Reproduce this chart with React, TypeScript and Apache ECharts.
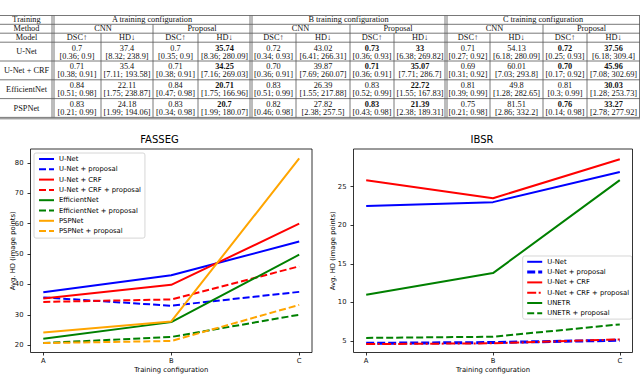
import React, { useEffect, useRef } from 'react';
import * as echarts from 'echarts';

// ---------- Table data ----------
const tableModels = ['U-Net', 'U-Net + CRF', 'EfficientNet', 'PSPNet'];
const configTitles = ['A training configuration', 'B training configuration', 'C training configuration'];
const methodNames = ['CNN', 'Proposal'];
const metricNames = ['DSC↑', 'HD↓'];
const headerLabels = ['Training', 'Method', 'Model'];

const aCnnDsc = ['0.7', '0.71', '0.84', '0.83'];
const aCnnDscCi = ['[0.36; 0.9]', '[0.38; 0.91]', '[0.51; 0.98]', '[0.21; 0.99]'];
const aCnnHd = ['37.4', '35.4', '22.11', '24.18'];
const aCnnHdCi = ['[8.32; 238.9]', '[7.11; 193.58]', '[1.75; 238.87]', '[1.99; 194.06]'];
const aPropDsc = ['0.7', '0.71', '0.84', '0.83'];
const aPropDscCi = ['[0.35; 0.9]', '[0.38; 0.91]', '[0.47; 0.98]', '[0.34; 0.98]'];
const aPropHd = ['35.74', '34.25', '20.71', '20.7'];
const aPropHdCi = ['[8.36; 280.09]', '[7.16; 269.03]', '[1.75; 166.96]', '[1.99; 180.07]'];

const bCnnDsc = ['0.72', '0.70', '0.83', '0.82'];
const bCnnDscCi = ['[0.34; 0.93]', '[0.36; 0.91]', '[0.51; 0.99]', '[0.46; 0.98]'];
const bCnnHd = ['43.02', '39.87', '26.39', '27.82'];
const bCnnHdCi = ['[6.41; 266.31]', '[7.69; 260.07]', '[1.55; 217.88]', '[2.38; 257.5]'];
const bPropDsc = ['0.73', '0.71', '0.83', '0.83'];
const bPropDscCi = ['[0.36; 0.93]', '[0.36; 0.91]', '[0.52; 0.99]', '[0.43; 0.98]'];
const bPropHd = ['33', '35.07', '22.72', '21.39'];
const bPropHdCi = ['[6.38; 269.82]', '[7.71; 286.7]', '[1.55; 167.83]', '[2.38; 189.31]'];

const cCnnDsc = ['0.71', '0.69', '0.81', '0.75'];
const cCnnDscCi = ['[0.27; 0.92]', '[0.31; 0.92]', '[0.39; 0.99]', '[0.21; 0.98]'];
const cCnnHd = ['54.13', '60.01', '49.8', '81.51'];
const cCnnHdCi = ['[6.18; 280.09]', '[7.03; 293.8]', '[1.28; 282.65]', '[2.86; 332.2]'];
const cPropDsc = ['0.72', '0.70', '0.81', '0.76'];
const cPropDscCi = ['[0.25; 0.93]', '[0.17; 0.92]', '[0.3; 0.99]', '[0.14; 0.98]'];
const cPropHd = ['37.56', '45.96', '30.03', '33.27'];
const cPropHdCi = ['[6.18; 309.4]', '[7.08; 302.69]', '[1.28; 253.73]', '[2.78; 277.92]'];

const boldNone = [false, false, false, false];
const boldAll = [true, true, true, true];
const boldPropDsc = [true, true, false, true];

// ---------- Chart data ----------
const configs = ['A', 'B', 'C'];
const fassegNames = ['U-Net', 'U-Net + proposal', 'U-Net + CRF', 'U-Net + CRF + proposal', 'EfficientNet', 'EfficientNet + proposal', 'PSPNet', 'PSPNet + proposal'];
const fassegUNet = [37.4, 43.02, 54.13];
const fassegUNetProp = [35.74, 33, 37.56];
const fassegCrf = [35.4, 39.87, 60.01];
const fassegCrfProp = [34.25, 35.07, 45.96];
const fassegEff = [22.11, 27.6, 49.8];
const fassegEffProp = [20.71, 22.72, 30.03];
const fassegPsp = [24.18, 27.82, 81.51];
const fassegPspProp = [20.7, 21.39, 33.27];

const ibsrNames = ['U-Net', 'U-Net + proposal', 'U-Net + CRF', 'U-Net + CRF + proposal', 'UNETR', 'UNETR + proposal'];
const ibsrUNet = [22.5, 23.0, 26.9];
const ibsrUNetProp = [4.7, 4.8, 5.1];
const ibsrCrf = [25.85, 23.5, 28.55];
const ibsrCrfProp = [4.6, 4.7, 5.2];
const ibsrUnetr = [11.0, 13.8, 25.85];
const ibsrUnetrProp = [5.4, 5.55, 7.15];

const fassegTicks = { min: 20, max: 80, interval: 10 };
const ibsrTicks = { min: 5, max: 25, interval: 5 };

// ---------- layout ----------
const SANS = '"DejaVu Sans", sans-serif';
const SERIF = '"Liberation Serif", "Times New Roman", serif';
const colEdges = [0, 53, 101, 153, 198, 251, 296, 350, 394, 446, 490, 543, 587, 640];
const rowEdges = [15.5, 24.3, 33.2, 42.2, 61, 79.8, 98.6, 117.4];

const tableColumns: [string[], string[], boolean[]][] = [
  [aCnnDsc, aCnnDscCi, boldNone], [aCnnHd, aCnnHdCi, boldNone], [aPropDsc, aPropDscCi, boldNone], [aPropHd, aPropHdCi, boldAll],
  [bCnnDsc, bCnnDscCi, boldNone], [bCnnHd, bCnnHdCi, boldNone], [bPropDsc, bPropDscCi, boldPropDsc], [bPropHd, bPropHdCi, boldAll],
  [cCnnDsc, cCnnDscCi, boldNone], [cCnnHd, cCnnHdCi, boldNone], [cPropDsc, cPropDscCi, boldPropDsc], [cPropHd, cPropHdCi, boldAll],
];

function tableElements() {
  const els: any[] = [];
  const stroke = '#555';
  const lw = 0.8;
  const line = (x1: number, y1: number, x2: number, y2: number) =>
    els.push({ type: 'line', silent: true, shape: { x1, y1, x2, y2 }, style: { stroke, lineWidth: lw } });
  const text = (t: string, x: number, y: number, bold = false) =>
    els.push({
      type: 'text', silent: true, x, y,
      style: { text: t, fill: '#111', fontSize: 8.3, fontFamily: SERIF, fontWeight: bold ? 'bold' : 'normal', align: 'center', verticalAlign: 'middle' },
    });
  const top = rowEdges[0];
  const bot = rowEdges[rowEdges.length - 1];
  rowEdges.forEach((y) => line(0, y, 640, y));
  line(0, bot + 1.4, 640, bot + 1.4);
  [1, 5, 9].forEach((ci) => { line(colEdges[ci] - 1, top, colEdges[ci] - 1, bot); line(colEdges[ci] + 1, top, colEdges[ci] + 1, bot); });
  [3, 7, 11].forEach((ci) => line(colEdges[ci], rowEdges[1], colEdges[ci], bot));
  [2, 4, 6, 8, 10, 12].forEach((ci) => line(colEdges[ci], rowEdges[2], colEdges[ci], bot));
  line(639.5, top, 639.5, bot);

  const c0 = (colEdges[0] + colEdges[1]) / 2;
  headerLabels.forEach((h, r) => text(h, c0, (rowEdges[r] + rowEdges[r + 1]) / 2));
  configTitles.forEach((t, k) => text(t, (colEdges[1 + 4 * k] + colEdges[5 + 4 * k]) / 2, (rowEdges[0] + rowEdges[1]) / 2));
  configTitles.forEach((_, k) => methodNames.forEach((m, mi) =>
    text(m, (colEdges[1 + 4 * k + 2 * mi] + colEdges[3 + 4 * k + 2 * mi]) / 2, (rowEdges[1] + rowEdges[2]) / 2)));
  tableColumns.forEach((_, i) => text(metricNames[i % 2], (colEdges[i + 1] + colEdges[i + 2]) / 2, (rowEdges[2] + rowEdges[3]) / 2));
  tableModels.forEach((m, r) => {
    const y0 = rowEdges[3 + r];
    const y1 = rowEdges[4 + r];
    text(m, c0, (y0 + y1) / 2);
    tableColumns.forEach(([vals, cis, bold], i) => {
      const cx = (colEdges[i + 1] + colEdges[i + 2]) / 2;
      text(vals[r], cx, y0 + 5.8, bold[r]);
      text(cis[r], cx, y0 + 13.8);
    });
  });
  return els;
}

function chartDecor() {
  const els: any[] = [];
  const frames = [
    { x: 30.5, y: 149, w: 281.5, h: 203.5, title: 'FASSEG', tx: 159.5, yl: 13.3 },
    { x: 353.5, y: 149, w: 279, h: 203.5, title: 'IBSR', tx: 482, yl: 333.3 },
  ];
  frames.forEach((f) => {
    els.push({ type: 'rect', silent: true, z: 50, shape: { x: f.x, y: f.y, width: f.w, height: f.h }, style: { fill: 'none', stroke: '#000', lineWidth: 0.8 } });
    els.push({ type: 'text', silent: true, x: f.tx, y: 139.5, style: { text: f.title, fill: '#000', fontSize: 10, fontFamily: SANS, align: 'center', verticalAlign: 'middle' } });
    els.push({ type: 'text', silent: true, x: f.x + f.w / 2, y: 369.8, style: { text: 'Training configuration', fill: '#000', fontSize: 6.8, fontFamily: SANS, align: 'center', verticalAlign: 'middle' } });
    els.push({ type: 'text', silent: true, x: f.yl, y: f.y + f.h / 2, rotation: Math.PI / 2, style: { text: 'Avg. HD (image points)', fill: '#000', fontSize: 6.8, fontFamily: SANS, align: 'center', verticalAlign: 'middle' } });
  });
  return els;
}

const BLUE = '#0000ff';
const RED = '#ff0000';
const GREEN = '#008000';
const ORANGE = '#ffa500';
const DASH = [7, 3];

function lineSeries(name: string, data: number[], color: string, type: any, idx: number, width = 2) {
  return {
    type: 'line', name, data, xAxisIndex: idx, yAxisIndex: idx,
    symbol: 'none', showSymbol: false, clip: false, silent: true,
    lineStyle: { color, width, type, join: 'round' },
    itemStyle: { color },
  };
}

function buildOption() {
  const axisText = { fontSize: 6.8, fontFamily: SANS, color: '#111' };
  const tick = { show: true, length: 3, inside: false, lineStyle: { color: '#000', width: 0.8 } };
  const xAxisBase = {
    type: 'category', data: configs, boundaryGap: false,
    axisLine: { show: false }, axisTick: tick, splitLine: { show: false },
    axisLabel: { ...axisText, margin: 5 },
  };
  const yAxisBase = {
    type: 'value', axisLine: { show: false }, axisTick: tick, splitLine: { show: false },
    axisLabel: { ...axisText, margin: 7 },
  };
  const legendBase = {
    orient: 'vertical', itemWidth: 15, itemHeight: 8, itemGap: 2.3,
    textStyle: { fontSize: 6.8, fontFamily: SANS, color: '#000', lineHeight: 8 },
    backgroundColor: 'rgba(255,255,255,0.85)', borderColor: '#cccccc', borderWidth: 0.8, borderRadius: 2,
    itemStyle: { opacity: 0 }, selectedMode: false, z: 10,
  };
  return {
    animation: false,
    backgroundColor: '#ffffff',
    grid: [
      { left: 43.3, top: 163, width: 255.9, height: 182.2, outerBoundsMode: 'none', containLabel: false },
      { left: 366.2, top: 186.7, width: 253.6, height: 154.3, outerBoundsMode: 'none', containLabel: false },
    ],
    xAxis: [
      { ...xAxisBase, gridIndex: 0, offset: 7.3 },
      { ...xAxisBase, gridIndex: 1, offset: 11.5 },
    ],
    yAxis: [
      { ...yAxisBase, gridIndex: 0, ...fassegTicks, offset: 12.8 },
      { ...yAxisBase, gridIndex: 1, ...ibsrTicks, offset: 12.7 },
    ],
    legend: [
      { ...legendBase, left: 34, top: 153, padding: [2, 4, 3, 4], data: fassegNames },
      {
        ...legendBase, left: 522.7, top: 256, padding: [1.8, 3, 1.8, 3],
        data: ibsrNames.map((n) => {
          if (n === 'U-Net + proposal') return { name: n, lineStyle: { width: 3, type: [8, 3] } };
          if (n === 'U-Net + CRF + proposal') return { name: n, lineStyle: { width: 2, type: [9, 2.5, 2, 2.5] } };
          return { name: n };
        }),
      },
    ],
    series: [
      lineSeries(fassegNames[0], fassegUNet, BLUE, 'solid', 0),
      lineSeries(fassegNames[1], fassegUNetProp, BLUE, DASH, 0),
      lineSeries(fassegNames[2], fassegCrf, RED, 'solid', 0),
      lineSeries(fassegNames[3], fassegCrfProp, RED, DASH, 0),
      lineSeries(fassegNames[4], fassegEff, GREEN, 'solid', 0),
      lineSeries(fassegNames[5], fassegEffProp, GREEN, DASH, 0),
      lineSeries(fassegNames[6], fassegPsp, ORANGE, 'solid', 0),
      lineSeries(fassegNames[7], fassegPspProp, ORANGE, DASH, 0),
      lineSeries(ibsrNames[0], ibsrUNet, BLUE, 'solid', 1),
      lineSeries(ibsrNames[1], ibsrUNetProp, BLUE, [8, 3], 1, 3),
      lineSeries(ibsrNames[2], ibsrCrf, RED, 'solid', 1),
      lineSeries(ibsrNames[3], ibsrCrfProp, RED, [9, 2.5, 2, 2.5], 1),
      lineSeries(ibsrNames[4], ibsrUnetr, GREEN, 'solid', 1),
      lineSeries(ibsrNames[5], ibsrUnetrProp, GREEN, DASH, 1),
    ],
    graphic: { elements: [...tableElements(), ...chartDecor()] },
  };
}

export default function App() {
  const ref = useRef<HTMLDivElement>(null);
  useEffect(() => {
    if (!ref.current) return;
    const chart = echarts.init(ref.current, null, { renderer: 'svg' });
    chart.setOption(buildOption() as any);
    return () => chart.dispose();
  }, []);
  return (
    <div
      ref={ref}
      style={{ position: 'absolute', left: 0, top: 0, width: 640, height: 375, background: '#fff' }}
    />
  );
}
